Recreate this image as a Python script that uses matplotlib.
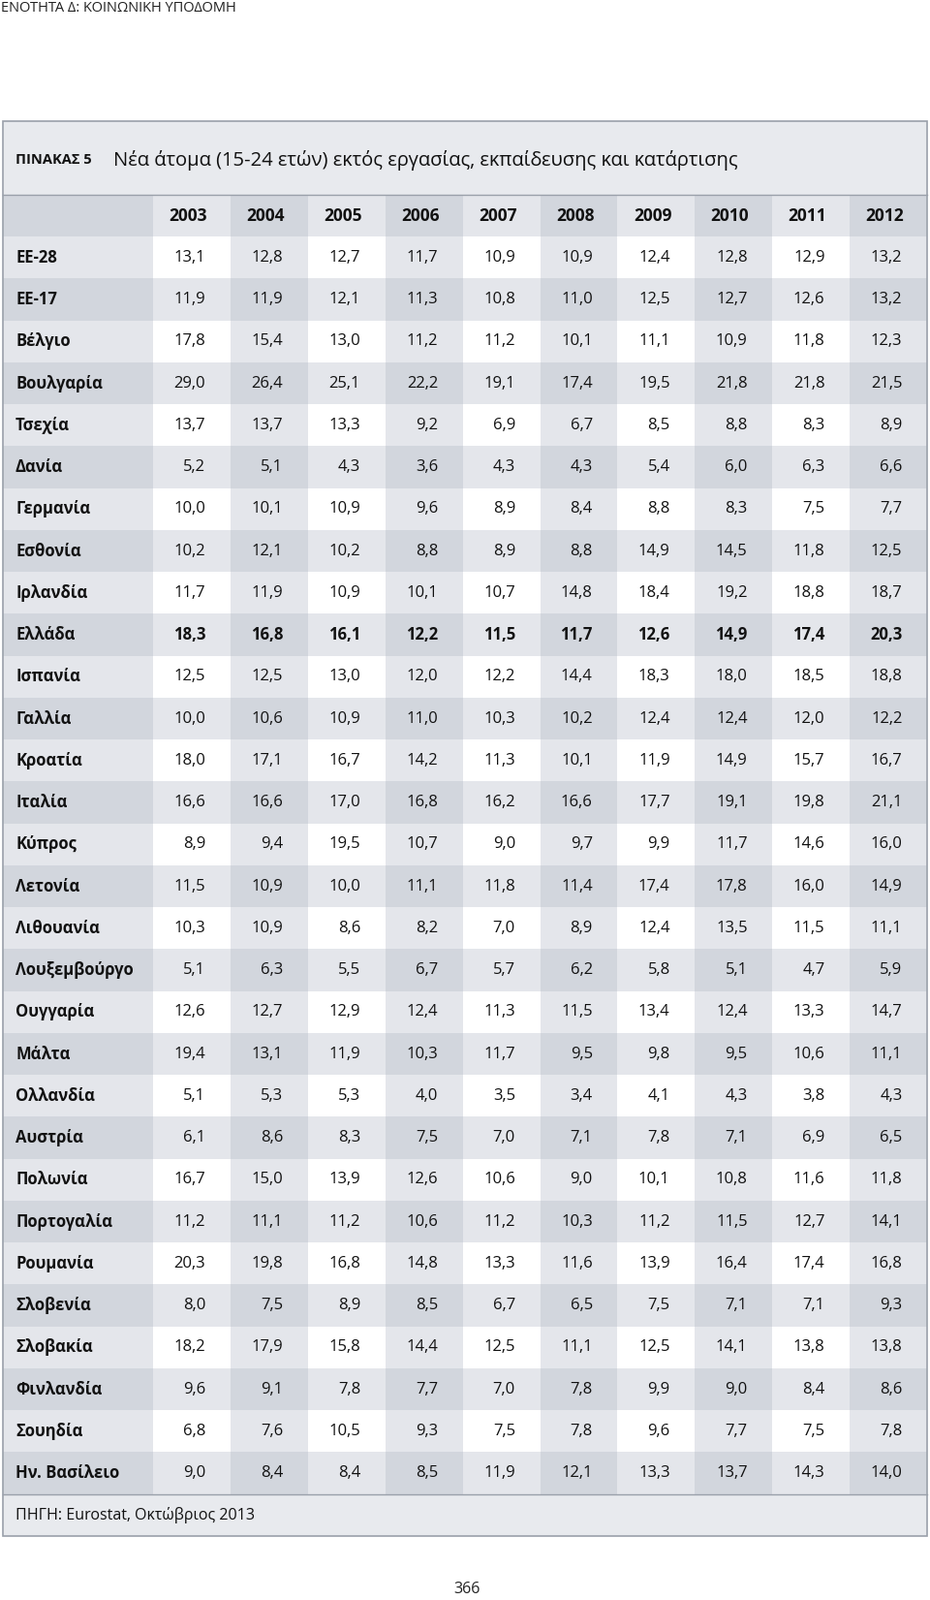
import matplotlib.pyplot as plt
from matplotlib.patches import Rectangle

years = ['2003', '2004', '2005', '2006', '2007', '2008', '2009', '2010', '2011', '2012']
countries = ['ΕΕ-28', 'ΕΕ-17', 'Βέλγιο', 'Βουλγαρία', 'Τσεχία', 'Δανία', 'Γερμανία',
             'Εσθονία', 'Ιρλανδία', 'Ελλάδα', 'Ισπανία', 'Γαλλία', 'Κροατία', 'Ιταλία',
             'Κύπρος', 'Λετονία', 'Λιθουανία', 'Λουξεμβούργο', 'Ουγγαρία', 'Μάλτα',
             'Ολλανδία', 'Αυστρία', 'Πολωνία', 'Πορτογαλία', 'Ρουμανία', 'Σλοβενία',
             'Σλοβακία', 'Φινλανδία', 'Σουηδία', 'Ην. Βασίλειο']
values = [
    [13.1, 12.8, 12.7, 11.7, 10.9, 10.9, 12.4, 12.8, 12.9, 13.2],
    [11.9, 11.9, 12.1, 11.3, 10.8, 11.0, 12.5, 12.7, 12.6, 13.2],
    [17.8, 15.4, 13.0, 11.2, 11.2, 10.1, 11.1, 10.9, 11.8, 12.3],
    [29.0, 26.4, 25.1, 22.2, 19.1, 17.4, 19.5, 21.8, 21.8, 21.5],
    [13.7, 13.7, 13.3, 9.2, 6.9, 6.7, 8.5, 8.8, 8.3, 8.9],
    [5.2, 5.1, 4.3, 3.6, 4.3, 4.3, 5.4, 6.0, 6.3, 6.6],
    [10.0, 10.1, 10.9, 9.6, 8.9, 8.4, 8.8, 8.3, 7.5, 7.7],
    [10.2, 12.1, 10.2, 8.8, 8.9, 8.8, 14.9, 14.5, 11.8, 12.5],
    [11.7, 11.9, 10.9, 10.1, 10.7, 14.8, 18.4, 19.2, 18.8, 18.7],
    [18.3, 16.8, 16.1, 12.2, 11.5, 11.7, 12.6, 14.9, 17.4, 20.3],
    [12.5, 12.5, 13.0, 12.0, 12.2, 14.4, 18.3, 18.0, 18.5, 18.8],
    [10.0, 10.6, 10.9, 11.0, 10.3, 10.2, 12.4, 12.4, 12.0, 12.2],
    [18.0, 17.1, 16.7, 14.2, 11.3, 10.1, 11.9, 14.9, 15.7, 16.7],
    [16.6, 16.6, 17.0, 16.8, 16.2, 16.6, 17.7, 19.1, 19.8, 21.1],
    [8.9, 9.4, 19.5, 10.7, 9.0, 9.7, 9.9, 11.7, 14.6, 16.0],
    [11.5, 10.9, 10.0, 11.1, 11.8, 11.4, 17.4, 17.8, 16.0, 14.9],
    [10.3, 10.9, 8.6, 8.2, 7.0, 8.9, 12.4, 13.5, 11.5, 11.1],
    [5.1, 6.3, 5.5, 6.7, 5.7, 6.2, 5.8, 5.1, 4.7, 5.9],
    [12.6, 12.7, 12.9, 12.4, 11.3, 11.5, 13.4, 12.4, 13.3, 14.7],
    [19.4, 13.1, 11.9, 10.3, 11.7, 9.5, 9.8, 9.5, 10.6, 11.1],
    [5.1, 5.3, 5.3, 4.0, 3.5, 3.4, 4.1, 4.3, 3.8, 4.3],
    [6.1, 8.6, 8.3, 7.5, 7.0, 7.1, 7.8, 7.1, 6.9, 6.5],
    [16.7, 15.0, 13.9, 12.6, 10.6, 9.0, 10.1, 10.8, 11.6, 11.8],
    [11.2, 11.1, 11.2, 10.6, 11.2, 10.3, 11.2, 11.5, 12.7, 14.1],
    [20.3, 19.8, 16.8, 14.8, 13.3, 11.6, 13.9, 16.4, 17.4, 16.8],
    [8.0, 7.5, 8.9, 8.5, 6.7, 6.5, 7.5, 7.1, 7.1, 9.3],
    [18.2, 17.9, 15.8, 14.4, 12.5, 11.1, 12.5, 14.1, 13.8, 13.8],
    [9.6, 9.1, 7.8, 7.7, 7.0, 7.8, 9.9, 9.0, 8.4, 8.6],
    [6.8, 7.6, 10.5, 9.3, 7.5, 7.8, 9.6, 7.7, 7.5, 7.8],
    [9.0, 8.4, 8.4, 8.5, 11.9, 12.1, 13.3, 13.7, 14.3, 14.0],
]
highlight = 'Ελλάδα'

W, H = 960, 1651
fig = plt.figure(figsize=(W / 100, H / 100), dpi=100)
ax = fig.add_axes([0, 0, 1, 1])
ax.set_xlim(0, W)
ax.set_ylim(H, 0)
ax.axis('off')
plt.rcParams['font.family'] = 'Open Sans'

WHITE, LIGHT, DARK = '#ffffff', '#e4e6eb', '#d2d6dd'
BAND = '#e8eaee'
left, right, top = 3, 957, 125
lab_w = 155
col_w = (right - left - lab_w) / len(years)
row_h = 43.25
head_top = 201

# title band
ax.add_patch(Rectangle((left, top), right - left, head_top - top, fc=BAND, ec='none'))
ax.text(16, 165, 'ΠΙΝΑΚΑΣ 5', fontsize=10.5, weight='bold', va='center', color='#111')
ax.text(117, 165, 'Νέα άτομα (15-24 ετών) εκτός εργασίας, εκπαίδευσης και κατάρτισης',
        fontsize=14.5, va='center', color='#111')


def cell_colour(r, c):
    dark_row = r % 2 == 0  # header (r=0) is a darker row
    if c < 0:
        return DARK if dark_row else LIGHT
    if dark_row:
        return LIGHT if c % 2 == 0 else DARK
    return WHITE if c % 2 == 0 else LIGHT


rows = [None] + countries
for r, name in enumerate(rows):
    y0 = head_top + r * row_h
    yc = y0 + row_h / 2
    ax.add_patch(Rectangle((left, y0), lab_w, row_h, fc=cell_colour(r, -1), ec='none'))
    for c in range(len(years)):
        x0 = left + lab_w + c * col_w
        ax.add_patch(Rectangle((x0, y0), col_w, row_h, fc=cell_colour(r, c), ec='none'))
        if name is None:
            ax.text(x0 + col_w * 0.7, yc, years[c], ha='right', va='center',
                    fontsize=12.5, weight='bold', color='#111')
        else:
            v = values[r - 1][c]
            ax.text(x0 + col_w * 0.68, yc, f'{v:.1f}'.replace('.', ','), ha='right',
                    va='center', fontsize=12, color='#111',
                    weight='bold' if name == highlight else 'normal')
    if name is not None:
        ax.text(16, yc, name, va='center', fontsize=12, weight='bold', color='#111')

foot_top = head_top + len(rows) * row_h
ax.add_patch(Rectangle((left, foot_top), right - left, 43, fc=BAND, ec='none'))
ax.plot([left, right], [foot_top, foot_top], color='#9aa0aa', lw=1)
ax.plot([left, right], [head_top, head_top], color='#9aa0aa', lw=1)
ax.add_patch(Rectangle((left, top), right - left, foot_top + 43 - top, fc='none',
                       ec='#9aa0aa', lw=1.2))
ax.text(16, foot_top + 22, 'ΠΗΓΗ: Eurostat, Οκτώβριος 2013', va='center', fontsize=11.5, color='#111')

ax.text(1, 8, 'ΕΝΟΤΗΤΑ Δ: ΚΟΙΝΩΝΙΚΗ ΥΠΟΔΟΜΗ', va='center', fontsize=10.5, color='#222')
ax.text(482, 1640, '366', ha='center', va='center', fontsize=11.5, color='#222')

fig.savefig('out.png', dpi=100)
